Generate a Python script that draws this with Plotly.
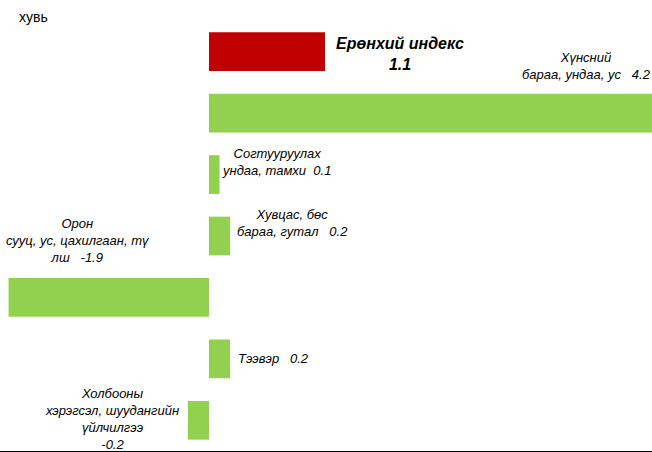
import plotly.graph_objects as go

# Өгөгдөл
categories = ["Ерөнхий индекс", "Хүнсний бараа, ундаа, ус", "Согтууруулах ундаа, тамхи",
              "Хувцас, бөс бараа, гутал", "Орон сууц, ус, цахилгаан, түлш", "Тээвэр",
              "Холбооны хэрэгсэл, шуудангийн үйлчилгээ"]
values = [1.1, 4.2, 0.1, 0.2, -1.9, 0.2, -0.2]
labels = ["Ерөнхий индекс<br>1.1",
          "Хүнсний<br>бараа, ундаа, ус   4.2",
          "Согтууруулах<br>ундаа, тамхи  0.1",
          "Хувцас, бөс<br>бараа, гутал   0.2",
          "Орон<br>сууц, ус, цахилгаан, тү<br>лш   -1.9",
          "Тээвэр   0.2",
          "Холбооны<br>хэрэгсэл, шуудангийн<br>үйлчилгээ<br>-0.2"]

colors = ["#C00000"] + ["#92D050"] * 6

# шошгоны байрлал (x өгөгдлийн нэгжээр, y пикселээр шилжүүлэх)
label_x = [1.81, 3.58, 0.64, 0.79, -1.24, 0.61, -0.92]
label_shift = [-2, 47, 13, 13, 57, 0, 1]

FONT = "Liberation Sans Narrow, Arial Narrow, Liberation Sans, Arial, sans-serif"

fig = go.Figure(go.Bar(
    x=values, y=categories, orientation='h',
    marker=dict(color=colors, line=dict(width=0)),
    width=0.63, hoverinfo='x+y'
))

for i, (cat, txt) in enumerate(zip(categories, labels)):
    bold = i == 0
    fig.add_annotation(
        x=label_x[i], y=cat, yshift=label_shift[i],
        text=f"<b><i>{txt}</i></b>" if bold else f"<i>{txt}</i>",
        showarrow=False, align='center', xanchor='center', yanchor='middle',
        font=dict(family=FONT, size=16 if bold else 13, color="black")
    )

fig.add_annotation(
    x=17 / 652, y=1.0, xref='paper', yref='paper', yshift=4,
    text="хувь", showarrow=False, xanchor='left', yanchor='middle',
    font=dict(family="Liberation Sans, Arial, sans-serif", size=14, color="black")
)

fig.update_xaxes(range=[-1.981, 4.199], showgrid=False, zeroline=False,
                 showticklabels=False, ticks='', showline=True,
                 linecolor='black', linewidth=1.5)
fig.update_yaxes(range=[6.5, -0.5], showgrid=False, zeroline=False,
                 showticklabels=False, ticks='', showline=False)

fig.update_layout(
    width=652, height=452,
    margin=dict(l=0, r=0, t=21, b=1),
    plot_bgcolor='white', paper_bgcolor='white',
    showlegend=False
)

fig.write_html("out.html", config={"displayModeBar": False},
               post_script="document.body.style.margin='0';")
